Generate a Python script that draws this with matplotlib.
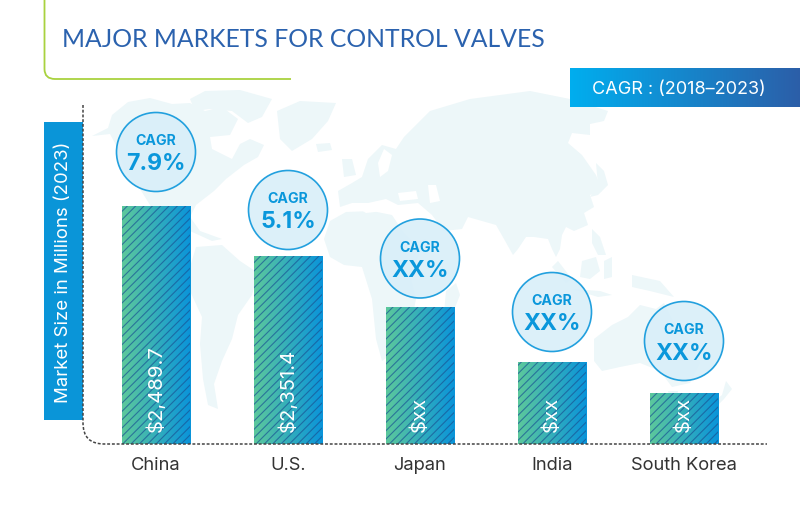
import numpy as np
import matplotlib
matplotlib.use("Agg")
import matplotlib.pyplot as plt
from matplotlib.patches import Ellipse, Polygon, PathPatch, Rectangle
from matplotlib.path import Path
from matplotlib.colors import LinearSegmentedColormap

categories = ["China", "U.S.", "Japan", "India", "South Korea"]
bar_levels = [238, 188, 137, 82, 51]
value_labels = ["$2,489.7", "$2,351.4", "$xx", "$xx", "$xx"]
cagr_values = ["7.9%", "5.1%", "XX%", "XX%", "XX%"]
circle_levels = [292, 234, 185.5, 132, 103]

plt.rcParams['font.family'] = ['Inter', 'DejaVu Sans']
plt.rcParams['hatch.linewidth'] = 0.8

LAND = "#edf7f9"
continents = [
    # North America
    [(92,137),(108,129),(112,116),(128,103),(150,99),(172,105),(190,104),(205,112),(222,108),(238,120),(230,136),(210,138),(212,150),(232,160),(240,145),(250,140),(264,146),(258,158),(244,166),(226,180),(214,192),(196,206),(190,218),(200,232),(222,240),(212,242),(190,232),(160,222),(140,190),(124,170),(118,150),(110,135)],
    # South America
    [(196,248),(222,246),(240,262),(258,274),(252,296),(238,316),(232,340),(222,362),(214,385),(218,410),(208,406),(203,380),(200,345),(202,318),(190,292),(190,268)],
    # Arctic islands
    [(190,100),(205,92),(240,91),(272,100),(262,118),(248,124),(232,112),(210,110),(195,112)],
    # Greenland
    [(277,112),(300,102),(336,104),(328,122),(312,140),(292,152),(280,140)],
    # Iceland
    [(316,145),(330,144),(332,151),(318,153)],
    # UK
    [(342,160),(352,160),(356,176),(344,178)],
    # Eurasia
    [(340,208),(338,192),(352,184),(362,178),(368,160),(382,146),(396,150),(404,138),(430,112),(470,100),(500,96),(530,92),(570,100),(608,112),(604,122),(590,125),(590,136),(572,134),(568,144),(582,156),(596,176),(602,192),(590,196),(594,208),(584,214),(588,226),(574,232),(566,228),(562,236),(560,250),(556,258),(552,250),(548,240),(534,238),(526,238),(518,250),(513,256),(504,240),(496,226),(482,222),(468,218),(462,230),(444,232),(432,216),(418,204),(398,206),(386,200),(368,204),(352,204)],
    # Africa
    [(324,240),(330,222),(346,213),(372,212),(392,216),(404,234),(414,244),(426,240),(418,258),(410,276),(416,300),(410,330),(396,352),(382,362),(376,340),(372,300),(362,268),(344,266),(330,258)],
    # Madagascar
    [(446,292),(456,284),(460,296),(452,316),(444,314)],
    # Japan
    [(596,164),(604,172),(608,186),(598,196),(590,198),(598,186)],
    # Philippines and Indonesia
    [(592,230),(600,238),(606,256),(598,256),(592,244)],
    [(558,262),(572,280),(566,284),(552,268)],
    [(582,262),(596,258),(600,272),(590,280),(580,278)],
    [(604,262),(612,258),(612,278),(604,280)],
    [(572,290),(600,292),(612,296),(598,298)],
    [(632,276),(660,282),(674,298),(650,292),(632,288)],
    # Australia
    [(594,340),(612,326),(628,318),(640,306),(656,310),(664,304),(676,328),(694,346),(700,364),(690,384),(672,388),(660,372),(640,364),(620,368),(602,372),(594,362)],
    [(668,392),(678,392),(676,402),(670,402)],
    # New Zealand
    [(726,382),(732,390),(724,400),(716,408),(712,404),(722,396)],
]
seas = [
    [(356,208),(384,204),(404,210),(418,214),(400,214),(384,212),(366,214)],
    [(398,194),(416,192),(418,200),(400,202)],
    [(428,186),(436,186),(440,202),(430,204)],
    [(378,164),(384,150),(392,156),(388,172),(380,178)],
    [(588,140),(600,148),(602,160),(590,156)],
    [(436,234),(442,232),(454,256),(448,258)],
]

fig = plt.figure(figsize=(8, 5.06), dpi=100, facecolor="white")

# Decoration layer in pixel coordinates
bg = fig.add_axes([0, 0, 1, 1], zorder=0)
bg.set_xlim(0, 800)
bg.set_ylim(506, 0)
bg.axis("off")
for poly in continents:
    bg.add_patch(Polygon(poly, closed=True, fc=LAND, ec="none"))
for poly in seas:
    bg.add_patch(Polygon(poly, closed=True, fc="white", ec="none"))

frame = Path([(44.5, 0), (44.5, 70), (44.5, 80), (55, 80), (291, 80)],
             [Path.MOVETO, Path.LINETO, Path.CURVE3, Path.CURVE3, Path.LINETO])
bg.add_patch(PathPatch(frame, fc="none", ec="#a9d23f", lw=1.3))
bg.text(62.5, 39.5, "MAJOR MARKETS FOR CONTROL VALVES", color="#2b62ae",
        fontsize=17.8, va="center", ha="left", family=["Lato", "DejaVu Sans"])

band = LinearSegmentedColormap.from_list("band", ["#00aeef", "#2c5ea8"])
bg.imshow(np.linspace(0, 1, 256)[None, :], cmap=band, aspect="auto",
          extent=(569.5, 800, 108, 69.5), zorder=2)
bg.text(591.5, 89, "CAGR : (2018\u20132023)", color="white", fontsize=13.0,
        va="center", ha="left", zorder=3)

bg.add_patch(Rectangle((43.5, 122.5), 39.5, 298, fc="#0a95d8", ec="none"))
bg.set_xlim(0, 800)
bg.set_ylim(506, 0)

# Chart layer
ax = fig.add_axes([83 / 800, (506 - 445) / 506, 684 / 800, 340 / 506], zorder=1)
ax.patch.set_alpha(0)
x_pos = np.arange(len(categories))

fill = LinearSegmentedColormap.from_list("fill", ["#5cc89c", "#0a94da"])
bars = ax.bar(x_pos, bar_levels, width=68.5 / 132, facecolor="none",
              edgecolor=(0.10, 0.33, 0.58, 0.7), hatch="////", linewidth=0, zorder=3)
for rect in bars:
    img = ax.imshow(np.linspace(0, 1, 128)[None, :], cmap=fill, aspect="auto",
                    extent=(rect.get_x(), rect.get_x() + rect.get_width(), 0, rect.get_height()),
                    zorder=2)
    img.set_clip_path(Rectangle((rect.get_x(), 0), rect.get_width(), rect.get_height(),
                                transform=ax.transData))
ax.set_xlim((83 - 156) / 132, (767 - 156) / 132)
ax.set_ylim(0, 340)

axis_line = Path([(83, 106), (83, 424), (83, 445), (104, 445), (767, 445)],
                 [Path.MOVETO, Path.LINETO, Path.CURVE3, Path.CURVE3, Path.LINETO])
ax.add_patch(PathPatch(axis_line, fc="none", ec="#444444", lw=1.1,
                       ls=(0, (1.9, 1.2)), zorder=6, transform=bg.transData, clip_on=False))

for i, (label, cagr, cy) in enumerate(zip(value_labels, cagr_values, circle_levels)):
    ax.text(i, 13, label, rotation=90, color="white", fontsize=14.6,
            ha="center", va="bottom", zorder=5)
    ax.add_patch(Ellipse((i, cy), 79 / 132, 79, fc="#d9eff9", ec="#1199dc",
                         lw=1.2, alpha=0.92, zorder=4))
    ax.text(i, cy + 12, "CAGR", color="#0a97db", fontsize=10.2, fontweight="bold",
            ha="center", va="center", zorder=5)
    ax.text(i, cy - 11.5, cagr, color="#0a97db", fontsize=16.6, fontweight="bold",
            ha="center", va="center", zorder=5)

ax.set_xticks(x_pos, categories)
ax.tick_params(axis="x", length=0, pad=9, labelsize=13.2, labelcolor="#333333")
ax.set_yticks([])
for spine in ax.spines.values():
    spine.set_visible(False)
ax.set_ylabel("Market Size in Millions (2023)", color="white", fontsize=13.4, va="center")
ax.yaxis.set_label_coords((63.5 - 83) / 684, (445 - 272) / 340)

fig.savefig("out.png", dpi=100)
